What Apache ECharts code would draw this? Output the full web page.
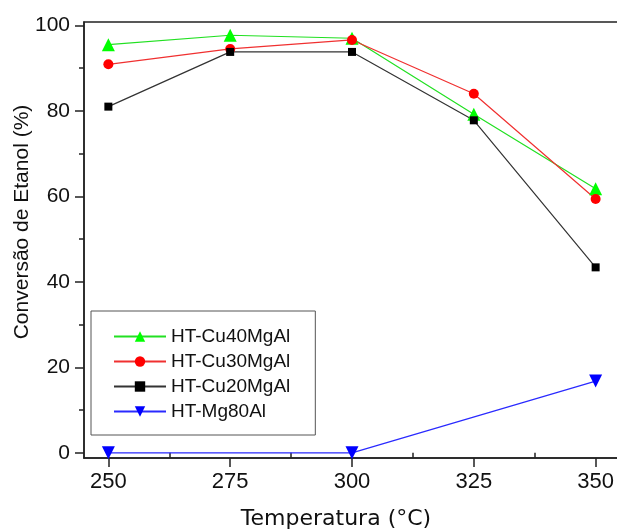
<!DOCTYPE html>
<html lang="pt">
  <head>
    <meta charset="UTF-8" />
    <script src="https://cdn.jsdelivr.net/npm/echarts@6/dist/echarts.min.js"></script>
    <style>
      html, body { margin: 0; padding: 0; background: #fff; }
      #app { width: 617px; height: 530px; }
    </style>
  </head>
  <body>
    <div id="app"></div>
    <script>
      // temperaturas (°C)
      const temps = [250, 275, 300, 325, 350];
      const cu40 = [95.5, 97.7, 97.0, 79.2, 61.8];
      const cu30 = [90.9, 94.5, 96.6, 84.0, 59.4];
      const cu20 = [81.0, 93.8, 93.8, 77.8, 43.4];
      // Mg80Al só tem pontos em 250, 300 e 350
      const mgTemps = [250, 300, 350];
      const mg80 = [0, 0, 16.8];

      const xTicks = [250, 275, 300, 325, 350];
      const xMinor = [262.5, 287.5, 312.5, 337.5];
      const yTicks = [0, 20, 40, 60, 80, 100];
      const yMinor = [10, 30, 50, 70, 90];

      const font = "Arial, 'Liberation Sans', sans-serif";
      const pair = (xs, ys) => xs.map((x, i) => [x, ys[i]]);

      const chart = echarts.init(document.getElementById("app"));

      const mkSeries = (name, xs, ys, color, lineColor, symbol, size) => ({
        name,
        type: "line",
        xAxisIndex: 0,
        yAxisIndex: 0,
        data: pair(xs, ys),
        symbol,
        symbolSize: size,
        itemStyle: { color },
        lineStyle: { color: lineColor, width: 1.2 },
        emphasis: { disabled: true },
        z: 3,
      });

      chart.setOption({
        animation: false,
        grid: {
          left: 84,
          top: 22,
          right: -3,
          bottom: 72,
          outerBoundsMode: "none",
          show: true,
          borderColor: "#222",
          borderWidth: 1.5,
        },
        legend: {
          left: 91,
          top: 311,
          orient: "vertical",
          borderColor: "#555",
          borderWidth: 1,
          padding: [16, 25, 14, 22],
          itemWidth: 52,
          itemHeight: 13,
          itemGap: 6,
          textStyle: { fontFamily: font, fontSize: 19, color: "#111" },
          data: ["HT-Cu40MgAl", "HT-Cu30MgAl", "HT-Cu20MgAl", "HT-Mg80Al"],
        },
        xAxis: [
          {
            type: "value",
            min: 245,
            max: 355,
            name: "Temperatura (°C)",
            nameLocation: "middle",
            nameGap: 50,
            nameTextStyle: {
              fontFamily: "'DejaVu Sans', sans-serif",
              fontSize: 22,
              color: "#111",
              padding: [0, 32, 0, 0],
            },
            axisLine: { onZero: false, lineStyle: { color: "#222", width: 1.5 } },
            axisTick: { inside: false, length: 9, lineStyle: { color: "#222", width: 1.5 }, customValues: xTicks },
            axisLabel: { fontFamily: font, fontSize: 22, color: "#111", margin: 13, customValues: xTicks },
            splitLine: { show: false },
          },
          {
            type: "value",
            min: 245,
            max: 355,
            position: "bottom",
            axisLine: { show: false },
            axisTick: { length: 5, lineStyle: { color: "#222", width: 1.5 }, customValues: xMinor },
            axisLabel: { show: false, customValues: xMinor },
            splitLine: { show: false },
          },
        ],
        yAxis: [
          {
            type: "value",
            min: -1.2,
            max: 100.8,
            name: "Conversão de Etanol (%)",
            nameLocation: "middle",
            nameGap: 51,
            nameMoveOverlap: false,
            nameTextStyle: {
              fontFamily: font,
              fontSize: 21,
              color: "#111",
              padding: [0, 0, 0, 36],
            },
            axisLine: { onZero: false, lineStyle: { color: "#222", width: 1.5 } },
            axisTick: { length: 9, lineStyle: { color: "#222", width: 1.5 }, customValues: yTicks },
            axisLabel: { fontFamily: font, fontSize: 21, color: "#111", margin: 14, customValues: yTicks },
            splitLine: { show: false },
          },
          {
            type: "value",
            min: -1.2,
            max: 100.8,
            position: "left",
            axisLine: { show: false },
            axisTick: { length: 5, lineStyle: { color: "#222", width: 1.5 }, customValues: yMinor },
            axisLabel: { show: false, customValues: yMinor },
            splitLine: { show: false },
          },
        ],
        series: [
          mkSeries("HT-Cu40MgAl", temps, cu40, "#00ff00", "#22e022", "triangle", 13),
          mkSeries("HT-Cu30MgAl", temps, cu30, "#ff0000", "#f03030", "circle", 10),
          mkSeries("HT-Cu20MgAl", temps, cu20, "#000000", "#333333", "rect", 8),
          mkSeries("HT-Mg80Al", mgTemps, mg80, "#0000ff", "#2a2aff", "path://M0,0 L10,0 L5,9 Z", 13),
        ],
      });
    </script>
  </body>
</html>
